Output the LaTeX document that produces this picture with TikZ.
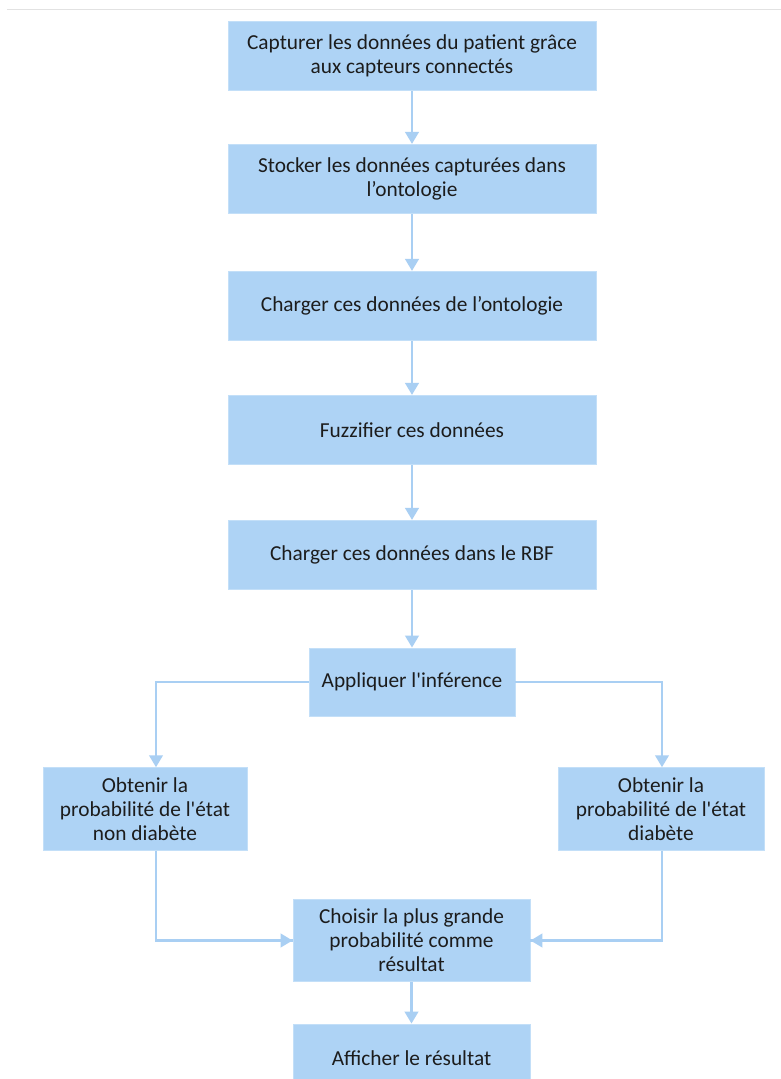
\documentclass[tikz,border=0pt]{standalone}
\usepackage{fontspec}
\setmainfont{Carlito}[Ligatures=TeXOff]
\usetikzlibrary{arrows.meta}
\definecolor{boxfill}{HTML}{AED3F5}
\definecolor{boxedge}{HTML}{C3DFF8}
\definecolor{linkcol}{HTML}{A9CFF3}
\definecolor{txtcol}{HTML}{1C1C1C}
\definecolor{rulecol}{HTML}{E2E2E2}
\tikzset{
  stepbox/.style={draw=boxedge, line width=0.6pt, fill=boxfill, text=txtcol,
    align=center, inner sep=0pt, anchor=center,
    font=\fontsize{16pt}{18pt}\selectfont},
  link/.style={draw=linkcol, line width=2.2pt,
    -{Triangle[width=10pt,length=9pt]}},
}
\begin{document}
\begin{tikzpicture}[x=0.75pt,y=-0.75pt]
\useasboundingbox (0,0) rectangle (781,1079);
\clip (0,0) rectangle (781,1079);
\fill[white] (0,0) rectangle (781,1079);
% thin rule across the top
\draw[rulecol, line width=0.8pt] (7,9.5) -- (781,9.5);

% main column
\node[stepbox, minimum width=276pt, minimum height=52pt] (b1) at (412,56)
  {Capturer les données du patient grâce\\aux capteurs connectés};
\node[stepbox, minimum width=276pt, minimum height=52pt] (b2) at (412,179)
  {Stocker les données capturées dans\\l’ontologie};
\node[stepbox, minimum width=276pt, minimum height=52pt] (b3) at (412,306)
  {Charger ces données de l’ontologie};
\node[stepbox, minimum width=276pt, minimum height=52pt] (b4) at (412,430)
  {Fuzzifier ces données};
\node[stepbox, minimum width=276pt, minimum height=52pt] (b5) at (412,555)
  {Charger ces données dans le RBF};
\node[stepbox, minimum width=154.5pt, minimum height=51pt] (b6) at (412,682)
  {Appliquer l'inférence};

% the two branches
\node[stepbox, minimum width=153pt, minimum height=62pt] (bL) at (145,809)
  {Obtenir la\\probabilité de l'état\\non diabète};
\node[stepbox, minimum width=154.5pt, minimum height=62pt] (bR) at (661,809)
  {Obtenir la\\probabilité de l'état\\diabète};

% merge and result
\node[stepbox, minimum width=177.75pt, minimum height=62pt] (b9) at (411.5,940.5)
  {Choisir la plus grande\\probabilité comme\\résultat};
\node[stepbox, minimum width=177.75pt, minimum height=51pt] (b10) at (411.5,1058)
  {Afficher le résultat};

% connectors
\draw[link] (b1) -- (b2);
\draw[link] (b2) -- (b3);
\draw[link] (b3) -- (b4);
\draw[link] (b4) -- (b5);
\draw[link] (b5) -- (b6);
\coordinate (lx) at (156,0);
\coordinate (rx) at (662,0);
\draw[link] (b6.west) -| (lx |- bL.north);
\draw[link] (b6.east) -| (rx |- bR.north);
\draw[link, -] (lx |- bL.south) |- (b9.west);
\draw[link] (lx |- b9.west) -- (b9.west);
\draw[link, -] (rx |- bR.south) |- (b9.east);
\draw[link] (rx |- b9.east) -- (b9.east);
\draw[link] (b9) -- (b10);
\end{tikzpicture}
\end{document}
